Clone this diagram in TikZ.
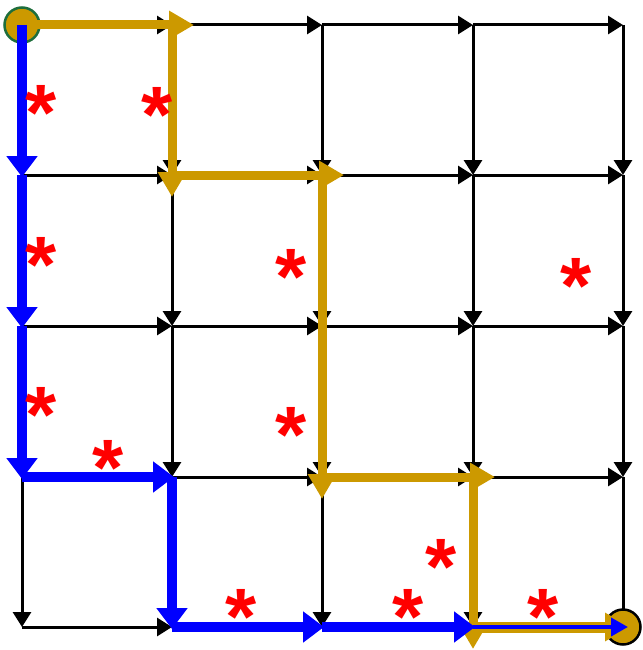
\documentclass[tikz,border=0pt]{standalone}
\usepackage{fontspec}
\setmainfont{Liberation Sans}
\usetikzlibrary{arrows.meta}
\definecolor{gold}{RGB}{204,153,0}
\definecolor{startgreen}{RGB}{30,110,60}
\begin{document}
\begin{tikzpicture}[x=1pt,y=-1pt,
  gridarrow/.style={draw=black,line width=3pt,-{Triangle[length=15pt,width=18pt]}},
  bluearrow/.style={draw=blue,line width=10pt,-{Triangle[length=21pt,width=30pt]},shorten >=-2pt},
  goldarrow/.style={draw=gold,line width=9pt,-{Triangle[length=25pt,width=27pt]},shorten >=-22pt},
  endpoint/.style={circle,fill=gold,line width=2.5pt,minimum size=35pt,inner sep=0pt},
  star/.style={text=red,font=\bfseries\fontsize{80}{80}\selectfont,inner sep=0pt},
]
\useasboundingbox (0,0) rectangle (642,650);
% grid coordinates
\foreach \i/\x in {0/22,1/172,2/322,3/473,4/623}{
  \foreach \j/\y in {0/25,1/175,2/326,3/477,4/627}{
    \coordinate (n\i\j) at (\x,\y);
  }
}
% grid arrows
\foreach \i in {0,...,4}{
  \foreach \j in {0,...,3}{
    \pgfmathtruncatemacro{\k}{\j+1}
    \draw[gridarrow] (n\i\j) -- (n\i\k);
    \draw[gridarrow] (n\j\i) -- (n\k\i);
  }
}
% end points
\node[endpoint,draw=startgreen] (start) at (n00) {};
\node[endpoint,draw=black] (goal) at (n44) {};
% gold path
\draw[goldarrow] (start.center) -- (n10);
\draw[goldarrow] (n10) -- (n11);
\draw[goldarrow] (n11) -- (n21);
\draw[goldarrow] (n21) -- (n23);
\draw[goldarrow] (n23) -- (n33);
\draw[goldarrow] (n33) -- (n34);
\draw[goldarrow,line width=11pt,shorten >=-7pt] (n34) -- (goal.center);
% blue path
\draw[bluearrow] (start.center) -- (n01);
\draw[bluearrow] (n01) -- (n02);
\draw[bluearrow] (n02) -- (n03);
\draw[bluearrow] (n03) -- (n13);
\draw[bluearrow] (n13) -- (n14);
\draw[bluearrow] (n14) -- (n24);
\draw[bluearrow] (n24) -- (n34);
\draw[draw=blue,line width=4pt,-{Triangle[length=17pt,width=18pt]},shorten >=-5pt] (n34) -- (goal.center);
% stars
\node[star] (s1) at (41,113) {*};
\node[star] (s2) at (157,115) {*};
\node[star] (s3) at (41,265) {*};
\node[star] (s4) at (291,277) {*};
\node[star] (s5) at (576,286) {*};
\node[star] (s6) at (41,415) {*};
\node[star] (s7) at (291,435) {*};
\node[star] (s8) at (108,468) {*};
\node[star] (s9) at (441,567) {*};
\node[star] (s10) at (241,617) {*};
\node[star] (s11) at (408,617) {*};
\node[star] (s12) at (543,617) {*};
\end{tikzpicture}
\end{document}
